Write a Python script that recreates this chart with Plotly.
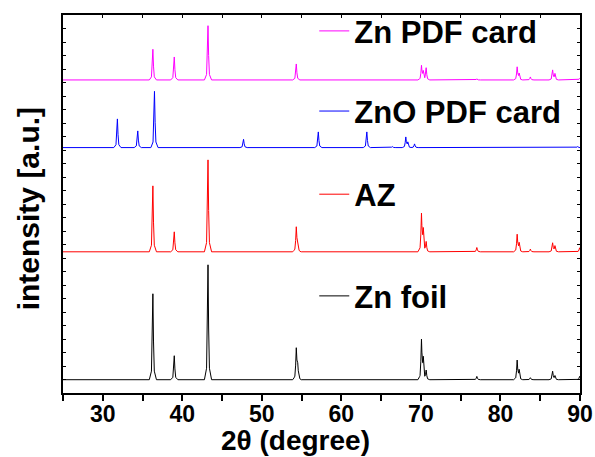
import numpy as np
import plotly.graph_objects as go

# ---------------- data ----------------
two_theta_range = [25, 90]
x_tick_labels = [30, 40, 50, 60, 70, 80, 90]

series_names = ["Zn foil", "AZ", "ZnO PDF card", "Zn PDF card"]
series_colors = ["#000000", "#FF0000", "#0000FF", "#FF00FF"]
series_offsets = [13.3, 141.3, 245.6, 313.3]   # vertical stacking offsets (a.u.)

zn_foil_pos = [36.30, 38.99, 43.23, 54.33, 54.50, 70.07, 70.30, 70.66, 77.03,
               82.10, 82.35, 83.76, 86.56, 86.85, 89.95]
zn_foil_int = [86.0, 24.0, 115.0, 30.0, 15.0, 39.0, 20.0, 9.0, 3.3,
               19.0, 9.0, 2.0, 8.3, 3.7, 3.3]

az_pos = [36.30, 38.99, 43.23, 54.33, 54.50, 70.07, 70.30, 70.66, 77.03,
          82.10, 82.35, 83.76, 86.56, 86.85, 89.95]
az_int = [66.0, 20.0, 92.0, 24.0, 8.0, 37.0, 21.0, 9.7, 4.3,
          17.0, 8.3, 2.7, 8.7, 5.7, 4.0]

zno_card_pos = [31.84, 34.40, 36.50, 47.70, 57.10, 63.20, 66.40, 68.10, 68.35,
                69.20, 72.60, 77.00, 81.40, 89.70]
zno_card_int = [28.7, 16.7, 56.3, 8.3, 15.7, 15.7, 1.0, 10.3, 5.0,
                3.7, 0.7, 0.7, 0.7, 1.0]

zn_card_pos = [36.30, 38.99, 43.23, 54.33, 70.07, 70.30, 70.66, 77.03,
               82.10, 82.35, 83.76, 86.56, 86.85, 89.95]
zn_card_int = [30.7, 23.0, 54.3, 16.0, 14.0, 8.0, 12.0, 1.0,
               12.7, 6.0, 3.0, 9.7, 6.0, 1.5]

peak_positions = [zn_foil_pos, az_pos, zno_card_pos, zn_card_pos]
peak_intensities = [zn_foil_int, az_int, zno_card_int, zn_card_int]

# ---------------- style ----------------
# piecewise-linear peak outline: (offset in degrees, fraction of peak height)
PEAK_OUTLINE = [(-0.45, 0.0), (-0.18, 0.10), (-0.08, 0.45), (0.0, 1.0),
                (0.08, 0.45), (0.18, 0.10), (0.45, 0.0)]
FONT = "Arial, Liberation Sans, sans-serif"
AXIS_W = 1.6


def pattern(positions, heights, base):
    """Polyline made from the peak list (sum of the peak outlines)."""
    offs = np.array([o for o, _ in PEAK_OUTLINE])
    fracs = np.array([f for _, f in PEAK_OUTLINE])
    xs = {float(two_theta_range[0]), float(two_theta_range[1])}
    for p in positions:
        xs.update((p + offs).tolist())
    xs = np.array(sorted(x for x in xs
                         if two_theta_range[0] <= x <= two_theta_range[1]))
    ys = np.full_like(xs, base, dtype=float)
    for p, h in zip(positions, heights):
        ys += h * np.interp(xs, p + offs, fracs, left=0.0, right=0.0)
    return xs, ys


fig = go.Figure()
legend_ids = ["legend", "legend2", "legend3", "legend4"]
legend_y = [0.256, 0.525, 0.745, 0.957]

for name, color, off, pos, inten, lid in zip(series_names, series_colors,
                                             series_offsets, peak_positions,
                                             peak_intensities, legend_ids):
    x, y = pattern(pos, inten, off)
    fig.add_trace(go.Scatter(x=x, y=y, mode="lines", name=name,
                             line=dict(color=color, width=1),
                             legend=lid, hoverinfo="skip"))

# invisible traces so the extra tick axes (top inside / bottom outside) exist
for ax in ["x2", "x3"]:
    fig.add_trace(go.Scatter(x=[two_theta_range[0]], y=[0], xaxis=ax,
                             mode="markers", marker=dict(opacity=0),
                             showlegend=False, hoverinfo="skip"))

layout_legends = {}
for lid, ly in zip(legend_ids, legend_y):
    layout_legends[lid] = dict(
        x=0.486, y=ly, xanchor="left", yanchor="middle",
        bgcolor="rgba(0,0,0,0)", borderwidth=0,
        font=dict(family=FONT, size=31, color="black", weight="bold"),
    )

fig.update_layout(
    width=595, height=457, autosize=False,
    margin=dict(l=63, r=15, t=15, b=64, pad=0, autoexpand=False),
    paper_bgcolor="white", plot_bgcolor="white",
    showlegend=True,
    xaxis=dict(range=two_theta_range, tickvals=x_tick_labels,
               ticks="", showline=True, linewidth=AXIS_W, linecolor="black",
               mirror=True, showgrid=False, zeroline=False,
               tickfont=dict(family=FONT, size=23, color="black", weight="bold")),
    xaxis2=dict(range=two_theta_range, overlaying="x", side="top", anchor="y",
                tick0=25, dtick=5, ticks="inside", ticklen=3, tickwidth=1,
                tickcolor="black", showticklabels=False, showline=False,
                showgrid=False, zeroline=False),
    xaxis3=dict(range=two_theta_range, overlaying="x", side="bottom", anchor="y",
                tick0=25, dtick=5, ticks="outside", ticklen=7, tickwidth=1.5,
                tickcolor="black", showticklabels=False, showline=False,
                showgrid=False, zeroline=False),
    yaxis=dict(range=[0, 378.3], tick0=0, dtick=13.51, ticks="inside",
               ticklen=3, tickwidth=1, tickcolor="black",
               showticklabels=False, showline=True, linewidth=AXIS_W,
               linecolor="black", mirror="ticks", showgrid=False,
               zeroline=False),
    annotations=[
        dict(text="2θ (degree)", xref="paper", yref="paper", x=0.449, y=-0.1248,
             xanchor="center", yanchor="middle", showarrow=False,
             font=dict(family=FONT, size=28, color="black", weight="bold")),
        dict(text="intensity [a.u.]", xref="paper", yref="paper", x=-0.065,
             y=0.487, xanchor="center", yanchor="middle", textangle=-90,
             showarrow=False,
             font=dict(family=FONT, size=30, color="black", weight="bold")),
    ],
    **layout_legends,
)

fig.write_html("out.html")
